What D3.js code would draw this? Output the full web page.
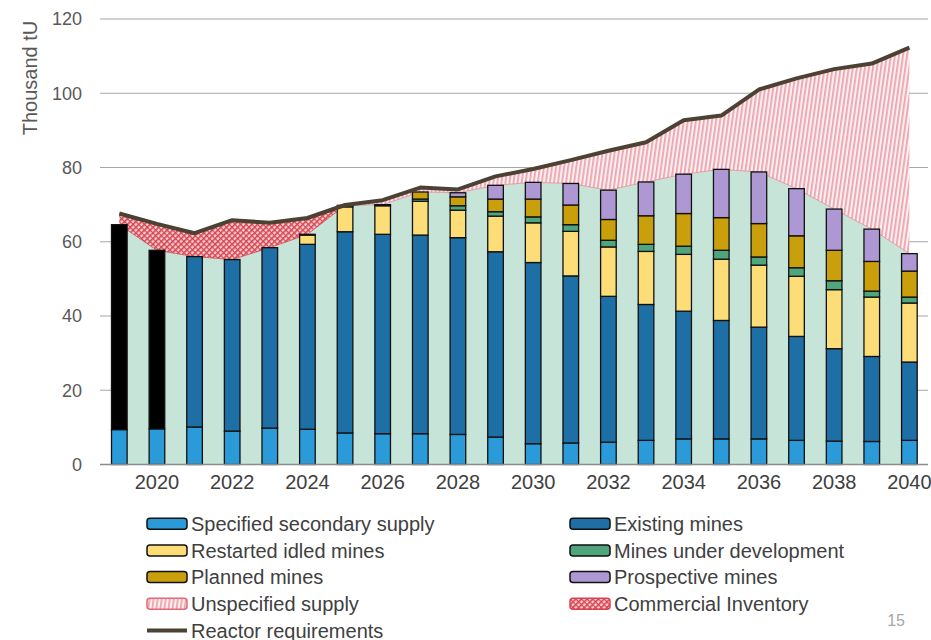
<!DOCTYPE html>
<html>
<head>
<meta charset="utf-8">
<script src="https://cdn.jsdelivr.net/npm/d3@7"></script>
<style>
  body { margin: 0; background: #fff; }
  svg { display: block; font-family: "Liberation Sans", Arial, sans-serif; }
  .tick-y { font-size: 18px; fill: #595959; }
  .tick-x { font-size: 20px; fill: #404040; }
  .legend-text { font-size: 20px; fill: #404040; }
</style>
</head>
<body>
<svg id="chart" width="931" height="640"></svg>
<script>
// uranium supply vs reactor requirements, thousand tU

const years = d3.range(2019, 2041);
const xTickYears = [2020, 2022, 2024, 2026, 2028, 2030, 2032, 2034, 2036, 2038, 2040];
const yTicks = [0, 20, 40, 60, 80, 100, 120];

const secondary   = [9.4, 9.6, 10.1, 9.0, 9.8, 9.5, 8.5, 8.3, 8.3, 8.1, 7.4, 5.6, 5.8, 6.0, 6.5, 6.9, 6.9, 6.9, 6.5, 6.3, 6.2, 6.5];
const historical  = [55.2, 48.1, 0, 0, 0, 0, 0, 0, 0, 0, 0, 0, 0, 0, 0, 0, 0, 0, 0, 0, 0, 0];
const existing    = [0, 0, 45.9, 46.2, 48.6, 49.8, 54.2, 53.7, 53.5, 53.0, 49.9, 48.8, 45.0, 39.3, 36.6, 34.4, 31.9, 30.1, 28.0, 24.9, 22.9, 21.1];
const restarted   = [0, 0, 0, 0, 0, 2.5, 6.7, 7.7, 9.1, 7.4, 9.6, 10.7, 12.0, 13.3, 14.3, 15.3, 16.5, 16.7, 16.2, 15.9, 16.0, 15.9];
const development = [0, 0, 0, 0, 0, 0, 0, 0, 0.6, 1.2, 1.2, 1.6, 1.8, 1.8, 1.9, 2.2, 2.4, 2.2, 2.3, 2.4, 1.6, 1.6];
const planned     = [0, 0, 0, 0, 0, 0.2, 0.4, 0.3, 1.9, 2.4, 3.4, 4.8, 5.3, 5.6, 7.7, 8.8, 8.8, 9.0, 8.6, 8.2, 8.0, 7.0];
const prospective = [0, 0, 0, 0, 0, 0, 0, 0, 0, 1.1, 3.7, 4.5, 5.8, 7.9, 9.1, 10.6, 13.0, 13.9, 12.7, 11.1, 8.7, 4.7];
const requirements = [67.6, 64.8, 62.3, 65.8, 65.1, 66.4, 69.9, 71.2, 74.6, 74.1, 77.6, 79.6, 82.0, 84.5, 86.8, 92.7, 94.0, 101.0, 104.0, 106.5, 108.0, 112.3];

// gap between supply and requirements: inventory drawdown first, unspecified later
const commercialYears  = d3.range(2019, 2026);
const unspecifiedYears = d3.range(2025, 2041);

const series = [
  { key: 'secondary',   name: 'Specified secondary supply', values: secondary,   color: '#2b9ad9' },
  { key: 'historical',  name: null,                         values: historical,  color: '#000000' },
  { key: 'existing',    name: 'Existing mines',             values: existing,    color: '#1d6fa5' },
  { key: 'restarted',   name: 'Restarted idled mines',      values: restarted,   color: '#fddd78' },
  { key: 'development', name: 'Mines under development',    values: development, color: '#4fa57c' },
  { key: 'planned',     name: 'Planned mines',              values: planned,     color: '#c99f0b' },
  { key: 'prospective', name: 'Prospective mines',          values: prospective, color: '#ad98d3' }
];

const rows = years.map((yr, i) => {
  const r = { year: yr, req: requirements[i] };
  series.forEach(s => { r[s.key] = s.values[i]; });
  r.total = d3.sum(series, s => s.values[i]);
  return r;
});

const svg = d3.select('#chart');

const x = d3.scaleBand()
  .domain(years)
  .range([100.5, 928.2])
  .paddingInner(0.585)
  .paddingOuter(0.2925);
const cx = yr => x(yr) + x.bandwidth() / 2;

const y = d3.scaleLinear().domain([0, 120]).range([464.5, 19]);

// patterns
const defs = svg.append('defs');
const pc = defs.append('pattern')
  .attr('id', 'commercial')
  .attr('patternUnits', 'userSpaceOnUse')
  .attr('width', 4).attr('height', 4)
  .attr('patternTransform', 'rotate(45)');
pc.append('rect').attr('width', 4).attr('height', 4).attr('fill', '#f6d3d6');
pc.append('rect').attr('width', 1.6).attr('height', 4).attr('fill', '#d8434f');
pc.append('rect').attr('width', 4).attr('height', 1.2).attr('fill', '#d8434f');

const pu = defs.append('pattern')
  .attr('id', 'unspecified')
  .attr('patternUnits', 'userSpaceOnUse')
  .attr('width', 4).attr('height', 4)
  .attr('patternTransform', 'rotate(8)');
pu.append('rect').attr('width', 4).attr('height', 4).attr('fill', '#fdeef0');
pu.append('rect').attr('x', 1).attr('width', 1.8).attr('height', 4).attr('fill', '#eba5af');

// gridlines
svg.append('g')
  .selectAll('line')
  .data(yTicks)
  .join('line')
  .attr('x1', 100).attr('x2', 928)
  .attr('y1', d => y(d)).attr('y2', d => y(d))
  .attr('stroke', '#a6a6a6')
  .attr('stroke-width', 1.2);

// supply area behind the bars
const supplyArea = d3.area()
  .x(d => cx(d.year))
  .y0(y(0))
  .y1(d => y(d.total));
svg.append('path')
  .datum(rows)
  .attr('d', supplyArea)
  .attr('fill', '#c6e5d8');

// gap areas
const gapArea = d3.area()
  .x(d => cx(d.year))
  .y0(d => y(Math.min(d.total, d.req)))
  .y1(d => y(d.req));
const gapEdge = d3.line()
  .x(d => cx(d.year))
  .y(d => y(Math.min(d.total, d.req)));

[[commercialYears, 'url(#commercial)', '#d8434f'], [unspecifiedYears, 'url(#unspecified)', '#e48a96']]
  .forEach(([yrs, fill, edge]) => {
    const sub = rows.filter(r => yrs.includes(r.year));
    svg.append('path').datum(sub).attr('d', gapArea).attr('fill', fill);
    svg.append('path').datum(sub).attr('d', gapEdge)
      .attr('fill', 'none').attr('stroke', edge).attr('stroke-width', 0.8);
  });

// stacked bars
const stack = d3.stack().keys(series.map(s => s.key));
const layers = stack(rows);
const colorOf = Object.fromEntries(series.map(s => [s.key, s.color]));

svg.append('g')
  .selectAll('g')
  .data(layers)
  .join('g')
  .attr('fill', d => colorOf[d.key])
  .selectAll('rect')
  .data(d => d.filter(p => p[1] - p[0] > 0))
  .join('rect')
  .attr('x', d => x(d.data.year))
  .attr('width', x.bandwidth())
  .attr('y', d => y(d[1]))
  .attr('height', d => y(d[0]) - y(d[1]))
  .attr('stroke', '#111')
  .attr('stroke-width', 1.3);

// x baseline
svg.append('line')
  .attr('x1', 100).attr('x2', 928)
  .attr('y1', y(0)).attr('y2', y(0))
  .attr('stroke', '#8c8c8c')
  .attr('stroke-width', 1.4);

// reactor requirements line
svg.append('path')
  .datum(rows)
  .attr('d', d3.line().x(d => cx(d.year)).y(d => y(d.req)))
  .attr('fill', 'none')
  .attr('stroke', '#4b4234')
  .attr('stroke-width', 4)
  .attr('stroke-linejoin', 'round');

// y tick labels
svg.append('g')
  .selectAll('text')
  .data(yTicks)
  .join('text')
  .attr('class', 'tick-y')
  .attr('x', 82)
  .attr('y', d => y(d))
  .attr('dy', '0.35em')
  .attr('text-anchor', 'end')
  .text(d => d);

// x tick labels
svg.append('g')
  .selectAll('text')
  .data(xTickYears)
  .join('text')
  .attr('class', 'tick-x')
  .attr('x', d => cx(d))
  .attr('y', 489)
  .attr('text-anchor', 'middle')
  .text(d => d);

// y title
svg.append('text')
  .attr('transform', 'translate(37,78) rotate(-90)')
  .attr('text-anchor', 'middle')
  .attr('font-size', 20)
  .attr('fill', '#595959')
  .text('Thousand tU');

// legend
const legendItems = [
  { label: 'Specified secondary supply', fill: '#2b9ad9', stroke: '#111', col: 0, row: 0 },
  { label: 'Existing mines',             fill: '#1d6fa5', stroke: '#111', col: 1, row: 0 },
  { label: 'Restarted idled mines',      fill: '#fddd78', stroke: '#111', col: 0, row: 1 },
  { label: 'Mines under development',    fill: '#4fa57c', stroke: '#111', col: 1, row: 1 },
  { label: 'Planned mines',              fill: '#c99f0b', stroke: '#111', col: 0, row: 2 },
  { label: 'Prospective mines',          fill: '#ad98d3', stroke: '#111', col: 1, row: 2 },
  { label: 'Unspecified supply',         fill: 'url(#unspecified)', stroke: '#e06a78', col: 0, row: 3 },
  { label: 'Commercial Inventory',       fill: 'url(#commercial)',  stroke: '#d8434f', col: 1, row: 3 },
  { label: 'Reactor requirements',       line: '#4b4234', col: 0, row: 4 }
];
const colX = [147, 570];
const rowY = [523.7, 550.5, 577, 603.7, 630.5];

const lg = svg.append('g')
  .selectAll('g')
  .data(legendItems)
  .join('g')
  .attr('transform', d => `translate(${colX[d.col]},${rowY[d.row]})`);

lg.filter(d => !d.line).append('rect')
  .attr('x', 0).attr('y', -5.5)
  .attr('width', 40).attr('height', 11)
  .attr('rx', 3)
  .attr('fill', d => d.fill)
  .attr('stroke', d => d.stroke)
  .attr('stroke-width', 1.5);

lg.filter(d => d.line).append('line')
  .attr('x1', 0).attr('x2', 40)
  .attr('y1', 0).attr('y2', 0)
  .attr('stroke', d => d.line)
  .attr('stroke-width', 4);

lg.append('text')
  .attr('class', 'legend-text')
  .attr('x', 44)
  .attr('y', 0)
  .attr('dy', '0.35em')
  .text(d => d.label);

// page number
svg.append('text')
  .attr('x', 905).attr('y', 626)
  .attr('text-anchor', 'end')
  .attr('font-size', 16)
  .attr('fill', '#a6a6a6')
  .text('15');
</script>
</body>
</html>
